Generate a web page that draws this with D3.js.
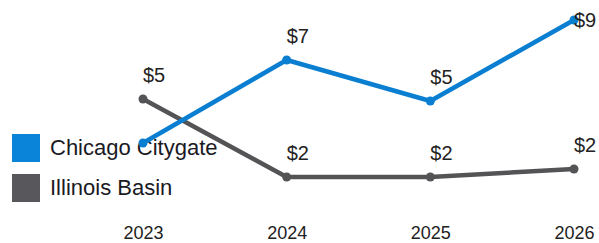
<!DOCTYPE html>
<html>
<head>
<meta charset="utf-8">
<script src="https://cdn.jsdelivr.net/npm/d3@7"></script>
<style>
  html, body { margin: 0; padding: 0; background: #fff; }
  svg { display: block; font-family: "Liberation Sans", Arial, sans-serif; }
</style>
</head>
<body>
<svg id="chart" width="599" height="243"></svg>
<script>
const years = ["2023", "2024", "2025", "2026"];
const seriesNames = ["Chicago Citygate", "Illinois Basin"];
const chicagoValues = [3.25, 7.4, 5.35, 9.4];
const illinoisValues = [5.45, 1.55, 1.55, 1.95];
const chicagoLabels = [null, "$7", "$5", "$9"];
const illinoisLabels = ["$5", "$2", "$2", "$2"];
const colors = ["#0a7fd2", "#545456"];
const swatchColors = ["#0a84d8", "#58585c"];

const svg = d3.select("#chart");
const x = d3.scalePoint().domain(years).range([143, 574]);
const y = d3.scaleLinear().domain([0, 10]).range([208, 8]);

// x axis
const axis = svg.append("g")
  .attr("transform", "translate(0,223)")
  .call(d3.axisBottom(x).tickSize(0).tickPadding(0));
axis.select(".domain").remove();
axis.selectAll("text")
  .attr("font-size", 18)
  .attr("font-family", "'Liberation Sans', Arial, sans-serif")
  .attr("fill", "#222")
  .attr("dy", "0.9em");

// legend
const legend = svg.append("g");
seriesNames.forEach((name, i) => {
  legend.append("rect")
    .attr("x", 12).attr("y", 134 + i * 40)
    .attr("width", 28).attr("height", 28)
    .attr("fill", swatchColors[i]);
  legend.append("text")
    .attr("x", 50).attr("y", 155 + i * 40)
    .attr("font-size", 22)
    .attr("fill", "#1a1a24")
    .text(name);
});

const series = [
  { values: chicagoValues, labels: chicagoLabels, color: colors[0] },
  { values: illinoisValues, labels: illinoisLabels, color: colors[1] }
];

const line = d3.line().x(d => x(d.year)).y(d => y(d.value));

// draw gray first, blue on top
[series[1], series[0]].forEach(s => {
  const pts = years.map((yr, i) => ({ year: yr, value: s.values[i], label: s.labels[i] }));
  svg.append("path")
    .datum(pts)
    .attr("d", line)
    .attr("fill", "none")
    .attr("stroke", s.color)
    .attr("stroke-width", 4.5)
    .attr("stroke-linejoin", "round");
  svg.selectAll(null)
    .data(pts)
    .enter().append("circle")
    .attr("cx", d => x(d.year))
    .attr("cy", d => y(d.value))
    .attr("r", 4.5)
    .attr("fill", s.color);
});

series.forEach(s => {
  const pts = years.map((yr, i) => ({ year: yr, value: s.values[i], label: s.labels[i] }))
    .filter(d => d.label);
  svg.selectAll(null)
    .data(pts)
    .enter().append("text")
    .attr("x", d => x(d.year))
    .attr("y", d => Math.max(y(d.value) - 17, 27))
    .attr("font-size", 20)
    .attr("fill", "#222")
    .text(d => d.label);
});
</script>
</body>
</html>
